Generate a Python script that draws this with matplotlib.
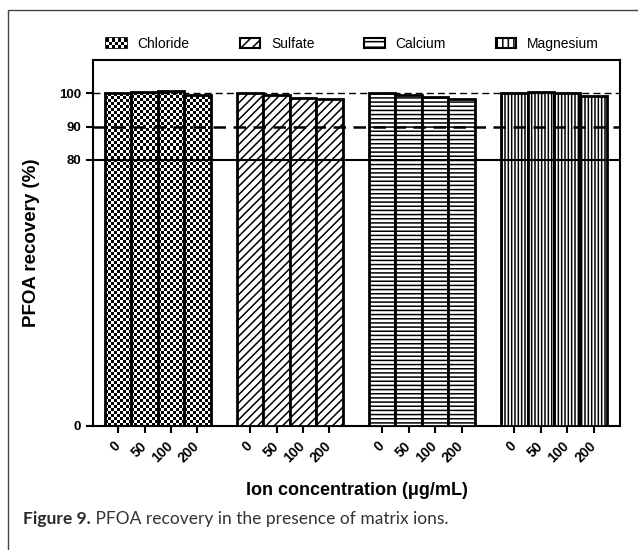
import numpy as np
import matplotlib
matplotlib.use("Agg")
import matplotlib.pyplot as plt
from matplotlib.patches import Rectangle
from matplotlib.legend_handler import HandlerBase

plt.rcParams["font.family"] = ["Liberation Sans", "DejaVu Sans"]
plt.rcParams["hatch.linewidth"] = 1.1

# Recovery (%) per ion at each spiked concentration
concentrations = ["0", "50", "100", "200"]
ions = ["Chloride", "Sulfate", "Calcium", "Magnesium"]
chloride = [100.0, 100.5, 100.8, 99.4]
sulfate = [100.0, 99.6, 98.6, 98.2]
calcium = [100.0, 99.5, 98.9, 98.4]
magnesium = [100.2, 100.3, 100.1, 99.2]
series = [chloride, sulfate, calcium, magnesium]
hatches = [None, "////", "----", "|||||"]
legend_hatches = [None, "///", "---", "|||"]
ref_levels = [100, 90, 80]
y_ticks = [0, 80, 90, 100]

caption_font = ["Lato", "DejaVu Sans"]


class CheckerHandler(HandlerBase):
    """Legend key drawn as a small black/white checkerboard."""

    def create_artists(self, legend, orig_handle, xdescent, ydescent,
                       width, height, fontsize, trans):
        x0, y0 = -xdescent, -ydescent
        arts = [Rectangle((x0, y0), width, height, facecolor="black",
                          edgecolor="black", lw=1.2, transform=trans)]
        nx, ny = 7, 3
        cw, ch = width / nx, height / ny
        for i in range(nx):
            for j in range(ny):
                if (i + j) % 2:
                    arts.append(Rectangle((x0 + i * cw, y0 + j * ch), cw, ch,
                                          facecolor="white", lw=0,
                                          transform=trans))
        return arts


fig = plt.figure(figsize=(6.38, 5.5), dpi=100)
ax = fig.add_axes([0.1458, 0.2255, 0.826, 0.6655])

ymax = 110
ax.set_ylim(0, ymax)
ax.set_xlim(-0.95, 19.0)

positions = []
handles = []
for g, (name, vals, hatch, lh) in enumerate(zip(ions, series, hatches,
                                                legend_hatches)):
    x = np.arange(len(vals)) + g * 5
    positions.extend(x)
    if hatch is None:
        bars = ax.bar(x, vals, width=1.0, facecolor="none", edgecolor="black",
                      linewidth=2.0, zorder=3)
        # checkerboard fill clipped to each bar
        nx, ny = 9, 122
        checker = (np.add.outer(np.arange(ny), np.arange(nx)) % 2).astype(float)
        for b in bars:
            im = ax.imshow(checker, cmap="gray_r", interpolation="nearest",
                           extent=(b.get_x(), b.get_x() + b.get_width(), 0, ymax),
                           origin="lower", aspect="auto", zorder=2)
            im.set_clip_path(b)
        handles.append(Rectangle((0, 0), 1, 1, label=name))
    else:
        ax.bar(x, vals, width=1.0, facecolor="white", edgecolor="black",
               hatch=hatch, linewidth=2.0, zorder=3)
        handles.append(Rectangle((0, 0), 1, 1, facecolor="white",
                                 edgecolor="black", hatch=lh,
                                 linewidth=1.5, label=name))

# reference lines at 100, 90 and 80 %
ax.axhline(ref_levels[0], color="black", lw=1.0, dashes=(5, 3), zorder=4)
ax.axhline(ref_levels[1], color="black", lw=1.8, dashes=(5, 3), zorder=4)
ax.axhline(ref_levels[2], color="black", lw=1.5, zorder=4)

ax.set_xticks(positions)
ax.set_xticklabels(concentrations * len(ions), rotation=45, ha="right",
                   va="center", rotation_mode="anchor", fontsize=10,
                   fontweight="bold")
ax.set_yticks(y_ticks)
ax.set_yticklabels([str(v) for v in y_ticks], fontsize=9.5, fontweight="bold")
ax.tick_params(axis="both", direction="out", length=5, width=1.5)
ax.tick_params(axis="x", pad=8)
for sp in ax.spines.values():
    sp.set_linewidth(1.5)

ax.set_ylabel("PFOA recovery (%)", fontsize=13.5, fontweight="bold")
ax.yaxis.set_label_coords(-0.1, 0.5)
ax.set_xlabel("Ion concentration (\u03bcg/mL)", fontsize=13, fontweight="bold")
ax.xaxis.set_label_coords(0.5, -0.153)

fig.legend(handles=handles, loc="center", bbox_to_anchor=(0.553, 0.92),
           ncol=4, frameon=False, fontsize=10, handlelength=1.45,
           handleheight=0.7, handletextpad=0.8, columnspacing=3.6,
           handler_map={handles[0]: CheckerHandler()})

# outer frame (left and top edges)
fig.patches.append(Rectangle((8 / 638, -0.1), 1.2, 1.1 - 10 / 550,
                             transform=fig.transFigure, fill=False,
                             edgecolor="#444444", lw=1.0))

cap = fig.text(23 / 638, 1 - 519 / 550, "Figure 9.", fontsize=12.5,
               fontweight="bold", color="#2b2b2b", va="center",
               family=caption_font)
ax.annotate(" PFOA recovery in the presence of matrix ions.", xy=(1, 0),
            xycoords=cap, va="bottom", ha="left", fontsize=12.5,
            color="#333333", family=caption_font, annotation_clip=False)

fig.savefig("out.png", dpi=100)
